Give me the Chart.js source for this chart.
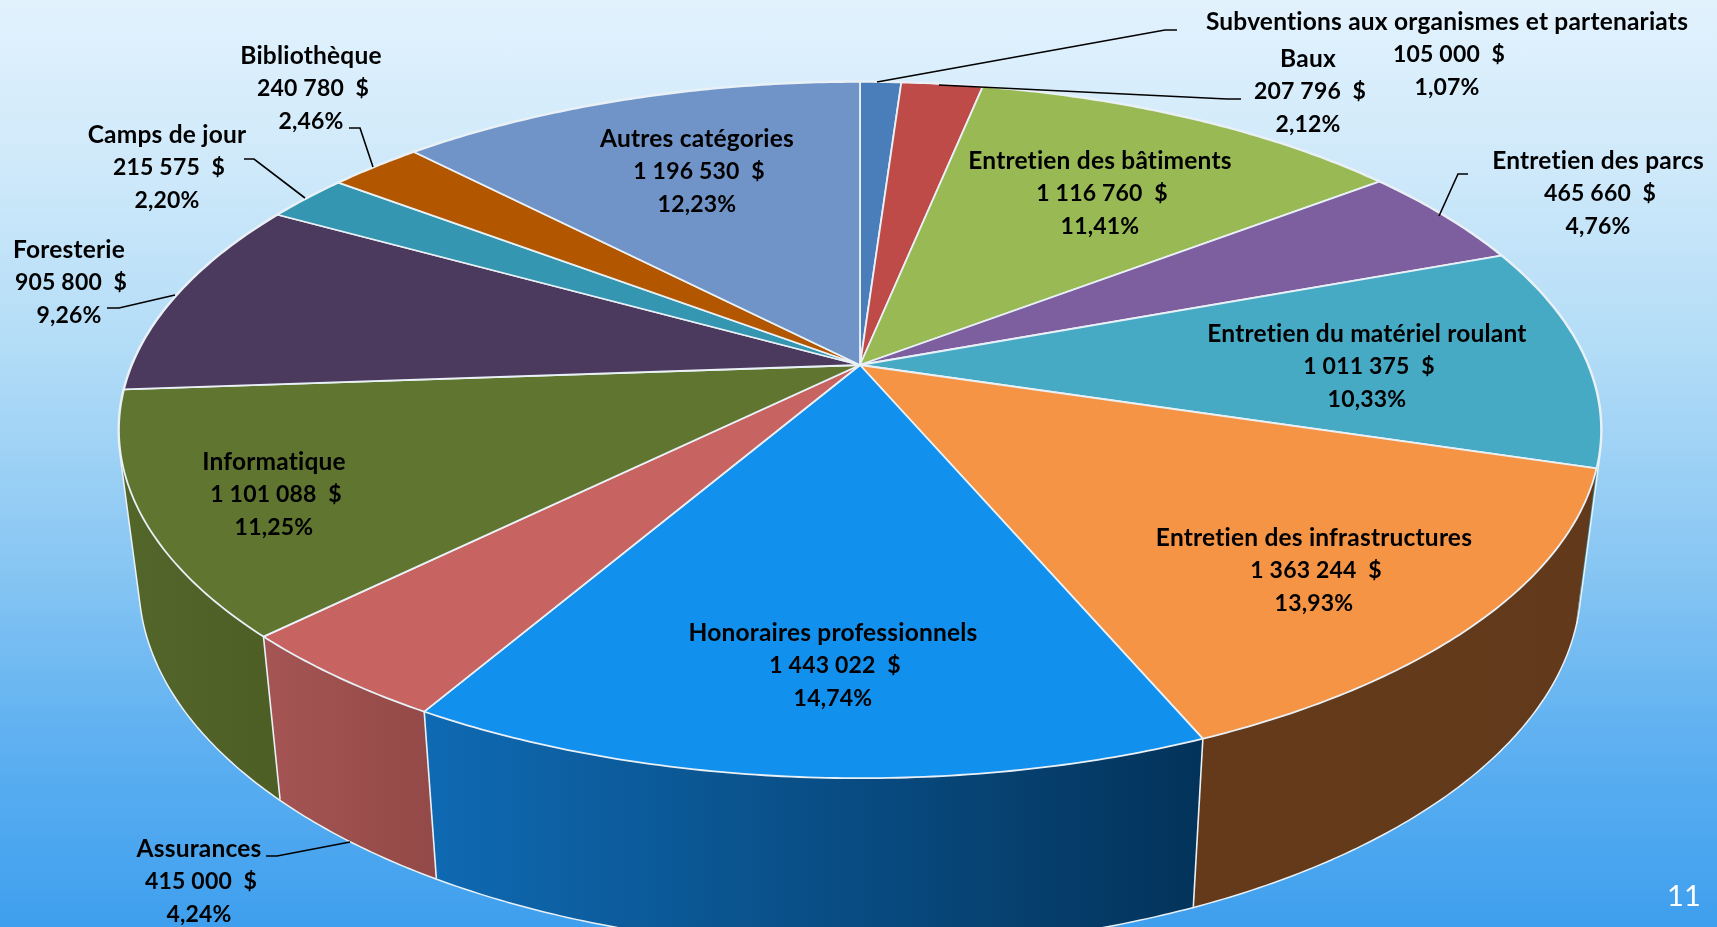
<!DOCTYPE html>
<html lang="fr">
<head>
<meta charset="utf-8">
<title>Dépenses</title>
<script src="https://cdn.jsdelivr.net/npm/chart.js@4"></script>
<style>
  html, body { margin: 0; padding: 0; width: 1717px; height: 927px; overflow: hidden; }
  body { background: linear-gradient(180deg, #e2f2fd 0%, #cfe9fa 18%, #b2dcf7 38%, #86c5f3 62%, #5eb0f1 80%, #3e9fee 100%); }
  canvas { display: block; }
</style>
</head>
<body>
<canvas id="pie3d" width="1717" height="927"></canvas>
<script>
// DATA
const categories = [
  'Subventions aux organismes et partenariats',
  'Baux',
  'Entretien des bâtiments',
  'Entretien des parcs',
  'Entretien du matériel roulant',
  'Entretien des infrastructures',
  'Honoraires professionnels',
  'Assurances',
  'Informatique',
  'Foresterie',
  'Camps de jour',
  'Bibliothèque',
  'Autres catégories'
];
const amounts = [105000, 207796, 1116760, 465660, 1011375, 1363244, 1443022, 415000, 1101088, 905800, 215575, 240780, 1196530];
const percents = ['1,07%', '2,12%', '11,41%', '4,76%', '10,33%', '13,93%', '14,74%', '4,24%', '11,25%', '9,26%', '2,20%', '2,46%', '12,23%'];
//DATA

//STYLE
const topColors = ['#4a7ebb', '#be4b48', '#98b954', '#7d5f9f', '#46aac5', '#f59445', '#1290ee', '#c76361', '#5f7530', '#4c3a5e', '#3496b0', '#b35600', '#7094c8'];
const wallLeft = ['#3a6595', '#983c3a', '#7a9443', '#644c7f', '#3a8da4', '#643a1a', '#0f6ab3', '#a55553', '#53662a', '#3d2f4b', '#2a788d', '#8f4500', '#5a76a0'];
const wallRight = ['#3a6595', '#983c3a', '#7a9443', '#644c7f', '#3a8da4', '#623a1b', '#03335a', '#944a48', '#4e5f26', '#3d2f4b', '#2a788d', '#8f4500', '#5a76a0'];
const edgeColor = '#e9f1f7';
const nameFont = 'bold 24.5px Lato';
const numberFont = 'bold 23px Lato';

// centre of each text block, first line y, per category
const labelX = [1447, 1308, 1100, 1598, 1367, 1314, 833, 199, 274, 69, 167, 311, 697];
const labelY = [22, 59, 161, 161, 334, 538, 633, 849, 462, 250, 135, 56, 139];
const leaders = [
  [[877, 82], [1165, 30], [1177, 30]],
  [[939, 85], [1227, 99], [1241, 99]],
  null,
  [[1439, 216], [1458, 174], [1468, 174]],
  null,
  null,
  null,
  [[350, 842], [277, 856], [266, 856]],
  null,
  [[175, 295], [119, 308], [107, 308]],
  [[305, 198], [254, 159], [244, 159]],
  [[373, 167], [360, 128], [349, 128]],
  null
];
//STYLE

// perspective of the disc: apex, half axes, tilt
const apexX = 860, apexY = 365, axisX = 728, axisY = 336, tilt = 0.1868;

function project(angle) {
  const u = Math.cos(angle), v = Math.sin(angle);
  const w = 1 - tilt * v;
  return { x: apexX + axisX * u / w, y: apexY + axisY * v / w };
}

// same rim point on the lower face of the disc
function lower(p) {
  return { x: p.x + (apexX - p.x) * 0.0278, y: p.y + 163 + 0.05 * (p.y - 638) };
}

function rimPoints(arc) {
  const steps = Math.max(4, Math.ceil((arc.endAngle - arc.startAngle) / 0.01));
  const pts = [];
  for (let s = 0; s <= steps; s++) {
    pts.push(project(arc.startAngle + (arc.endAngle - arc.startAngle) * s / steps));
  }
  return pts;
}

// wall as small quads all turning the same way, so the fold near the sides fills
function wallPath(ctx, rim, low) {
  ctx.beginPath();
  for (let k = 0; k < rim.length - 1; k++) {
    let quad = [rim[k], rim[k + 1], low[k + 1], low[k]];
    let area = 0;
    quad.forEach((p, n) => {
      const q = quad[(n + 1) % 4];
      area += p.x * q.y - q.x * p.y;
    });
    if (area < 0) quad = quad.reverse();
    quad.forEach((p, n) => n ? ctx.lineTo(p.x, p.y) : ctx.moveTo(p.x, p.y));
    ctx.closePath();
  }
}

function formatAmount(n) {
  return String(n).replace(/\B(?=(\d{3})+$)/g, ' ') + '  $';
}

const pie3dPlugin = {
  id: 'pie3d',
  beforeDatasetDraw(chart, args) {
    const ctx = chart.ctx;
    const arcs = args.meta.data;

    // walls, back ones first
    const order = arcs.map((a, i) => i).sort((a, b) => {
      return Math.sin((arcs[a].startAngle + arcs[a].endAngle) / 2) - Math.sin((arcs[b].startAngle + arcs[b].endAngle) / 2);
    });
    ctx.save();
    ctx.lineJoin = 'round';

    // light halo first, it stays as the thin outline round the walls
    order.forEach(i => {
      const rim = rimPoints(arcs[i]);
      wallPath(ctx, rim, rim.map(lower));
      ctx.strokeStyle = edgeColor;
      ctx.lineWidth = 3;
      ctx.stroke();
    });
    order.forEach(i => {
      const rim = rimPoints(arcs[i]);
      const low = rim.map(lower);
      const grad = ctx.createLinearGradient(rim[0].x, 0, rim[rim.length - 1].x, 0);
      // arcs on the front run right to left
      grad.addColorStop(0, wallRight[i]);
      grad.addColorStop(1, wallLeft[i]);
      wallPath(ctx, rim, low);
      ctx.fillStyle = grad;
      ctx.fill();
    });
    // upright edges between the walls, only the ones well inside the front
    arcs.forEach(arc => {
      if (Math.sin(arc.startAngle) < 0.35) return;
      const a = project(arc.startAngle), b = lower(a);
      ctx.beginPath();
      ctx.moveTo(a.x, a.y);
      ctx.lineTo(b.x, b.y);
      ctx.strokeStyle = edgeColor;
      ctx.lineWidth = 1.6;
      ctx.stroke();
    });

    // top faces
    arcs.forEach((arc, i) => {
      const rim = rimPoints(arc);
      ctx.beginPath();
      ctx.moveTo(apexX, apexY);
      rim.forEach(p => ctx.lineTo(p.x, p.y));
      ctx.closePath();
      ctx.fillStyle = topColors[i];
      ctx.fill();
      ctx.strokeStyle = edgeColor;
      ctx.lineWidth = 1.8;
      ctx.stroke();
    });
    ctx.restore();
    return false;
  },
  afterDraw(chart) {
    const ctx = chart.ctx;
    ctx.save();
    ctx.strokeStyle = '#000000';
    ctx.lineWidth = 1.6;
    leaders.forEach(line => {
      if (!line) return;
      ctx.beginPath();
      line.forEach((p, k) => k ? ctx.lineTo(p[0], p[1]) : ctx.moveTo(p[0], p[1]));
      ctx.stroke();
    });
    ctx.fillStyle = '#000000';
    ctx.textAlign = 'center';
    ctx.textBaseline = 'middle';
    ctx.letterSpacing = '0.2px';
    categories.forEach((name, i) => {
      ctx.font = nameFont;
      ctx.fillText(name, labelX[i], labelY[i]);
      ctx.font = numberFont;
      ctx.fillText(formatAmount(amounts[i]), labelX[i] + 2, labelY[i] + 32.8);
      ctx.fillText(percents[i], labelX[i], labelY[i] + 65.6);
    });
    ctx.fillStyle = '#ffffff';
    ctx.font = '29px Lato';
    ctx.fillText('11', 1684, 897);
    ctx.restore();
  }
};

//IMPLEMENT
const pie3d = new Chart(document.getElementById('pie3d'), {
  type: 'pie',
  data: {
    labels: categories,
    datasets: [{ data: amounts, backgroundColor: topColors }]
  },
  options: {
    responsive: false,
    animation: false,
    events: [],
    plugins: { legend: { display: false }, tooltip: { enabled: false } }
  },
  plugins: [pie3dPlugin]
});
//IMPLEMENT
</script>
</body>
</html>
